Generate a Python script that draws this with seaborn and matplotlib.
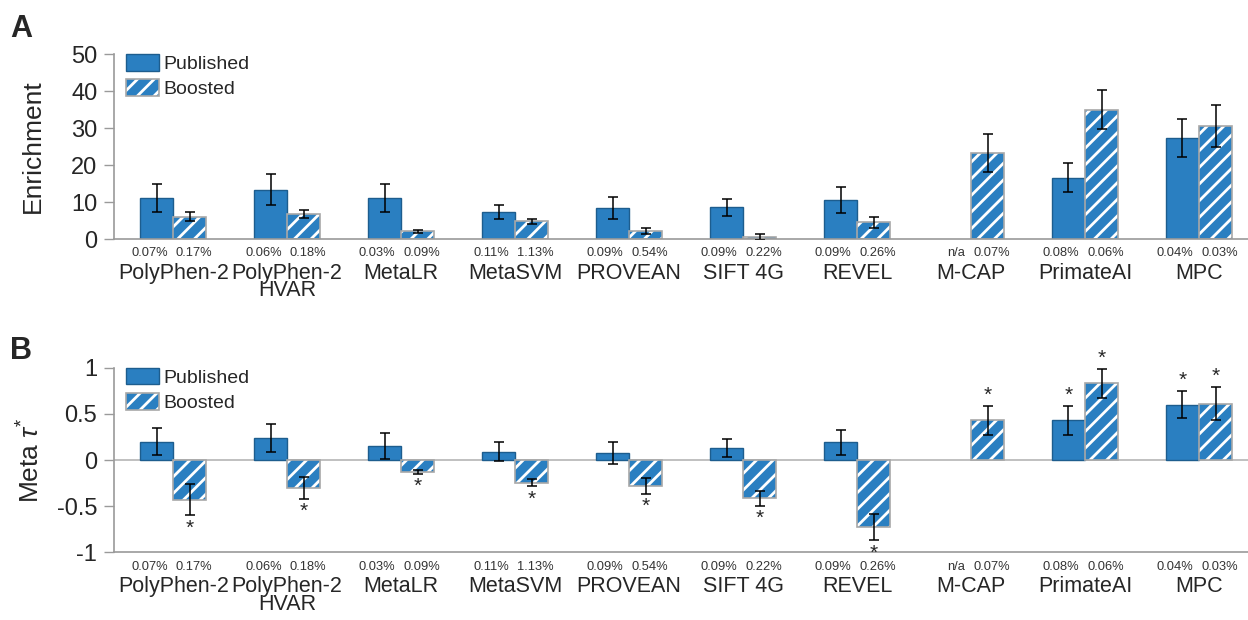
import numpy as np
import pandas as pd
import seaborn as sns
import matplotlib.pyplot as plt
from matplotlib.patches import Rectangle, Patch

# =========================
# Data
# =========================
tools = ["PolyPhen-2", "PolyPhen-2\nHVAR", "MetaLR", "MetaSVM", "PROVEAN",
         "SIFT 4G", "REVEL", "M-CAP", "PrimateAI", "MPC"]
kinds = ["Published", "Boosted"]

enr_pub = [11.1, 13.3, 11.0, 7.2, 8.4, 8.6, 10.5, np.nan, 16.6, 27.3]
enr_pub_err = [3.7, 4.2, 3.8, 1.9, 2.9, 2.3, 3.6, np.nan, 3.9, 5.1]
enr_boost = [6.0, 6.8, 2.1, 4.8, 2.2, 0.5, 4.5, 23.3, 35.0, 30.5]
enr_boost_err = [1.2, 1.0, 0.4, 0.7, 0.8, 0.9, 1.4, 5.1, 5.4, 5.6]

tau_pub = [0.20, 0.24, 0.15, 0.09, 0.08, 0.13, 0.19, np.nan, 0.43, 0.60]
tau_pub_err = [0.15, 0.15, 0.14, 0.10, 0.12, 0.10, 0.14, np.nan, 0.16, 0.15]
tau_boost = [-0.43, -0.30, -0.13, -0.245, -0.28, -0.415, -0.73, 0.43, 0.83, 0.61]
tau_boost_err = [0.17, 0.12, 0.02, 0.04, 0.09, 0.08, 0.14, 0.155, 0.16, 0.18]
tau_pub_sig = [False, False, False, False, False, False, False, False, True, True]
tau_boost_sig = [True] * 10

pct_pub = ["0.07%", "0.06%", "0.03%", "0.11%", "0.09%", "0.09%", "0.09%", "n/a", "0.08%", "0.04%"]
pct_boost = ["0.17%", "0.18%", "0.09%", "1.13%", "0.54%", "0.22%", "0.26%", "0.07%", "0.06%", "0.03%"]

# =========================
# Style
# =========================
BLUE = "#2a7fc1"
EDGE_PUB = "#1d5d8e"
EDGE_BOOST = "#a8a8a8"
SPINE = "#9a9a9a"

sns.set_theme(style="white")
plt.rcParams["font.family"] = ["Liberation Sans", "DejaVu Sans"]
plt.rcParams["mathtext.fontset"] = "custom"
plt.rcParams["mathtext.rm"] = "Liberation Sans"
plt.rcParams["mathtext.it"] = "Liberation Sans:italic"
plt.rcParams["axes.unicode_minus"] = False
plt.rcParams["hatch.linewidth"] = 2.0

n = len(tools)
BAR_W = 0.58
OFF = BAR_W / 4


def make_df(pub, boost):
    return pd.DataFrame({
        "tool": tools * 2,
        "kind": [kinds[0]] * n + [kinds[1]] * n,
        "value": list(pub) + list(boost),
    })


def draw_panel(ax, pub, pub_err, boost, boost_err):
    sns.barplot(data=make_df(pub, boost), x="tool", y="value", hue="kind",
                order=tools, hue_order=kinds, palette=[BLUE, BLUE], saturation=1,
                errorbar=None, width=BAR_W, legend=False, ax=ax, zorder=2)
    for p in ax.containers[0]:
        p.set_edgecolor(EDGE_PUB)
        p.set_linewidth(1.0)
    for p in ax.containers[1]:
        p.set_hatch("//")
        p.set_edgecolor("white")
        p.set_linewidth(0)
        ax.add_patch(Rectangle((p.get_x(), p.get_y()), p.get_width(), p.get_height(),
                               fill=False, edgecolor=EDGE_BOOST, lw=1.2, zorder=2.1))
    x = np.arange(n)
    ax.errorbar(x - OFF, pub, yerr=pub_err, fmt="none", ecolor="black",
                elinewidth=1.1, capsize=3.8, capthick=1.1, zorder=3)
    ax.errorbar(x + OFF, boost, yerr=boost_err, fmt="none", ecolor="black",
                elinewidth=1.1, capsize=3.8, capthick=1.1, zorder=3)

    # percentages under each bar
    for i in range(n):
        ax.annotate(pct_pub[i], xy=(i, 0), xycoords=("data", "axes fraction"),
                    xytext=(-4, -6), textcoords="offset points",
                    ha="right", va="top", fontsize=9.3, color="#333333")
        ax.annotate(pct_boost[i], xy=(i, 0), xycoords=("data", "axes fraction"),
                    xytext=(1.5, -6), textcoords="offset points",
                    ha="left", va="top", fontsize=9.3, color="#333333")

    ax.set_xlim(-0.52, 9.43)
    ax.set_xticks(range(n))
    ax.set_xticklabels(tools, fontsize=15.5, linespacing=0.8)
    ax.tick_params(axis="x", length=0, pad=17)
    ax.tick_params(axis="y", length=7, width=1, color=SPINE, labelsize=17, pad=5,
                   direction="out", left=True)
    ax.set_xlabel("")
    for s in ["top", "right"]:
        ax.spines[s].set_visible(False)
    for s in ["left", "bottom"]:
        ax.spines[s].set_color(SPINE)
        ax.spines[s].set_linewidth(1.2)

    h_pub = Patch(facecolor=BLUE, edgecolor=EDGE_PUB, lw=1.0)
    h_boost_fill = Patch(facecolor=BLUE, edgecolor="white", hatch="//", lw=0)
    h_boost_edge = Patch(fill=False, edgecolor=EDGE_BOOST, lw=1.2)
    ax.legend([h_pub, (h_boost_fill, h_boost_edge)], kinds, loc="upper left",
              bbox_to_anchor=(0.0106, 1.0), frameon=False, fontsize=14,
              handlelength=1.7, handleheight=0.93, handletextpad=0.2,
              labelspacing=0.33, borderpad=0, borderaxespad=0)


fig = plt.figure(figsize=(12.48, 6.2), dpi=100)
ax1 = fig.add_axes([0.0913, 0.6145, 0.9087, 0.2984])
ax2 = fig.add_axes([0.0913, 0.1092, 0.9087, 0.2977])

# ---- Panel A: enrichment
draw_panel(ax1, enr_pub, enr_pub_err, enr_boost, enr_boost_err)
ax1.set_ylim(0, 50)
ax1.set_yticks([0, 10, 20, 30, 40, 50])
ax1.set_ylabel("Enrichment", fontsize=19)
ax1.yaxis.set_label_coords(-0.061, 0.5)

# ---- Panel B: meta tau*
ax2.axhline(0, color="#b5b5b5", lw=1.2, zorder=1)
draw_panel(ax2, tau_pub, tau_pub_err, tau_boost, tau_boost_err)
ax2.set_ylim(-1, 1)
ax2.set_yticks([-1, -0.5, 0, 0.5, 1])
ax2.set_yticklabels(["-1", "-0.5", "0", "0.5", "1"])
ax2.set_ylabel(r"Meta $\tau^{*}$", fontsize=19)
ax2.yaxis.set_label_coords(-0.061, 0.5)

# significance stars
for vals, errs, sig, dx in [(tau_pub, tau_pub_err, tau_pub_sig, -OFF),
                            (tau_boost, tau_boost_err, tau_boost_sig, OFF)]:
    for i in range(n):
        if not sig[i] or np.isnan(vals[i]):
            continue
        if vals[i] >= 0:
            ax2.annotate("*", xy=(i + dx, vals[i] + errs[i]), xytext=(0, 3.5),
                         textcoords="offset points", ha="center", va="baseline",
                         fontsize=15)
        else:
            ax2.annotate("*", xy=(i + dx, vals[i] - errs[i]), xytext=(0, -13),
                         textcoords="offset points", ha="center", va="baseline",
                         fontsize=15)

fig.text(0.008, 0.978, "A", fontsize=22, fontweight="bold", va="top")
fig.text(0.008, 0.458, "B", fontsize=22, fontweight="bold", va="top")

fig.savefig("out.png", dpi=100)
